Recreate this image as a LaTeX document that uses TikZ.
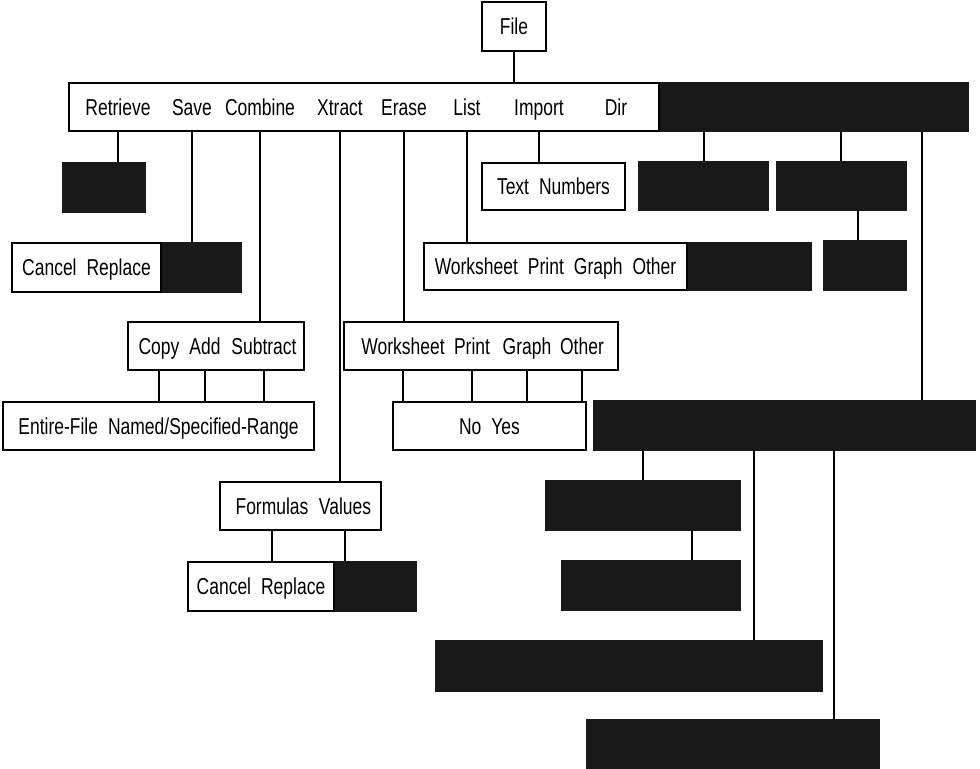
\documentclass[tikz,border=0pt]{standalone}
\usepackage{fontspec}
\setmainfont{Liberation Sans}[FakeStretch=0.76]
\usepackage{tikz}
\usetikzlibrary{positioning}
\newcommand{\wsp}{\hspace{5pt}}

\begin{document}
\begin{tikzpicture}[
    x=0.5pt, y=-0.5pt,
    font=\fontsize{11.5}{13}\selectfont,
    box/.style={rectangle, draw, line width=0.9pt, fill=white, inner sep=0pt, minimum height=24pt,
        text height=10.3pt, text depth=2pt},
    blackout/.style={rectangle, draw=black!90, line width=0.9pt, fill=black!90, inner sep=0pt, minimum height=24pt},
    word/.style={inner sep=0pt, text height=10.3pt, text depth=2pt},
    link/.style={line width=0.7pt},
]
\useasboundingbox (0,0) rectangle (980,769);

% main menu
\node[box, minimum width=32pt, minimum height=24.5pt] (file) at (514,26.5) {File};
\node[box, minimum width=295pt] (menu) at (364,107) {};
\node[blackout, minimum width=153.5pt, right=0pt of menu] (menumore) {};
\foreach \name/\x/\txt in {retrieve/118/Retrieve, save/192/Save, combine/260/Combine, xtract/340/Xtract,
    erase/404/Erase, list/467/List, import/539/Import, dir/616/Dir}
  \node[word] (\name) at (\x,107) {\txt};
\coordinate (hidA) at (704,107);
\coordinate (hidB) at (841,107);
\coordinate (hidC) at (922,107);
\draw[link] (file.south) -- (file.south |- menu.north);

% retrieve, save
\node[blackout, minimum width=41pt, minimum height=24.5pt] (retrieveopt) at (104,187.5) {};
\node[box, minimum width=74.5pt, minimum height=24.5pt] (saveopt) at (86.5,267.5) {Cancel\wsp Replace};
\node[blackout, minimum width=39pt, minimum height=24.5pt, right=0pt of saveopt] (savemore) {};

% combine
\node[box, minimum width=88pt] (combineopt) at (216,346) {};
\foreach \name/\x/\txt in {copy/159/Copy, add/205/Add, subtract/264/Subtract}
  \node[word] (\name) at (\x,346) {\txt};
\node[box, minimum width=155.5pt] (combinerange) at (158.5,426) {Entire-File\wsp Named/Specified-Range};

% xtract
\node[box, minimum width=80.5pt] (xtractopt) at (300.5,506) {};
\foreach \name/\x/\txt in {formulas/272/Formulas, values/345/Values}
  \node[word] (\name) at (\x,506) {\txt};
\node[box, minimum width=73pt, minimum height=24.5pt] (xtractrepl) at (261,586.5) {Cancel\wsp Replace};
\node[blackout, minimum width=40pt, minimum height=24.5pt, right=0pt of xtractrepl] (xtractmore) {};

% erase
\node[box, minimum width=137pt] (eraseopt) at (481,346) {};
\foreach \name/\x/\txt in {worksheet/403/Worksheet, print/472/Print, graph/527/Graph, other/582/Other}
  \node[word] (\name) at (\x,346) {\txt};
\node[box, minimum width=96.5pt] (eraseconfirm) at (489.5,426) {No\wsp Yes};

% list, import
\node[box, minimum width=131.5pt, minimum height=23.5pt] (listopt) at (555.5,266.5) {Worksheet\wsp Print\wsp Graph\wsp Other};
\node[blackout, minimum width=61pt, minimum height=23.5pt, right=0pt of listopt] (listmore) {};
\node[box, minimum width=71.5pt, minimum height=23.5pt] (importopt) at (553.5,186.5) {Text\wsp Numbers};

% blacked-out part
\node[blackout, minimum width=64.5pt] (moreA) at (703.5,186) {};
\node[blackout, minimum width=64.5pt] (moreB) at (841.5,186) {};
\coordinate (hidBsub) at (858,186);
\node[blackout, minimum width=41pt, minimum height=24.5pt] (moreBsub) at (865,265.5) {};
\node[blackout, minimum width=190.5pt, minimum height=24.5pt] (morebar) at (784.5,425.5) {};
\coordinate (barA) at (643,425.5);
\coordinate (barB) at (754,425.5);
\coordinate (barC) at (834,425.5);
\node[blackout, minimum width=97pt, minimum height=24.5pt] (barAopt) at (643,505.5) {};
\coordinate (hidAsub) at (692,505.5);
\node[blackout, minimum width=89pt, minimum height=24.5pt] (barAsub) at (651,585.5) {};
\node[blackout, minimum width=193pt, minimum height=25pt] (barBopt) at (629,666) {};
\node[blackout, minimum width=146pt] (barCopt) at (733,744) {};

% connectors
\draw[link] (retrieve |- menu.south) -- (retrieve |- retrieveopt.north);
\draw[link] (save |- menu.south) -- (save |- saveopt.north);
\draw[link] (combine |- menu.south) -- (combine |- combineopt.north);
\draw[link] (xtract |- menu.south) -- (xtract |- xtractopt.north);
\draw[link] (erase |- menu.south) -- (erase |- eraseopt.north);
\draw[link] (list |- menu.south) -- (list |- listopt.north);
\draw[link] (import |- menu.south) -- (import |- importopt.north);
\foreach \w in {copy, add, subtract}
  \draw[link] (\w |- combineopt.south) -- (\w |- combinerange.north);
\foreach \w in {formulas, values}
  \draw[link] (\w |- xtractopt.south) -- (\w |- xtractrepl.north);
\foreach \w in {worksheet, print, graph, other}
  \draw[link] (\w |- eraseopt.south) -- (\w |- eraseconfirm.north);
\draw[link] (hidA |- menumore.south) -- (hidA |- moreA.north);
\draw[link] (hidB |- menumore.south) -- (hidB |- moreB.north);
\draw[link] (hidC |- menumore.south) -- (hidC |- morebar.north);
\draw[link] (hidBsub |- moreB.south) -- (hidBsub |- moreBsub.north);
\draw[link] (barA |- morebar.south) -- (barA |- barAopt.north);
\draw[link] (barB |- morebar.south) -- (barB |- barBopt.north);
\draw[link] (barC |- morebar.south) -- (barC |- barCopt.north);
\draw[link] (hidAsub |- barAopt.south) -- (hidAsub |- barAsub.north);
\end{tikzpicture}
\end{document}
